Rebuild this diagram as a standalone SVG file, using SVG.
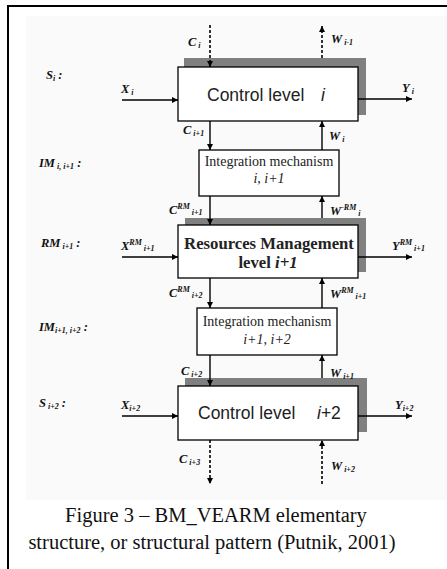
<svg xmlns="http://www.w3.org/2000/svg" width="447" height="569" viewBox="0 0 447 569">
<style>
.frame{fill:none;stroke:#000;stroke-width:2}
.box{fill:#fff;stroke:#000;stroke-width:1.3}
.shadow{fill:#808080}
.ln{stroke:#000;stroke-width:1.4;fill:none}
.dash{stroke:#000;stroke-width:1.6;fill:none;stroke-dasharray:3 2}
.lbl{font-family:"Liberation Serif",serif;font-weight:bold;font-style:italic;font-size:12.5px;fill:#111}
.sub{font-size:8px}
.sans{font-family:"Liberation Sans",Arial,sans-serif;font-size:17.5px;fill:#222}
.serif{font-family:"Liberation Serif",serif;font-size:14px;fill:#222}
.rm{font-family:"Liberation Serif",serif;font-size:16.7px;font-weight:bold;fill:#222}
.cap{font-family:"Liberation Serif",serif;font-size:20.5px;fill:#111}
</style>
<defs>
<marker id="ah" viewBox="0 0 10 10" refX="10" refY="5" markerWidth="6" markerHeight="6" markerUnits="userSpaceOnUse" orient="auto">
<path d="M0,0 L10,5 L0,10 z" fill="#000"/>
</marker>
</defs>
<rect x="0" y="0" width="447" height="569" fill="#fff"/>
<rect x="26" y="16" width="421" height="484" fill="#fafafa"/>
<path class="frame" d="M8,569 L8,6 L447,6"/>

<g id="control-i">
<rect class="shadow" x="184" y="58" width="182" height="57"/>
<rect class="box" x="178" y="67" width="180" height="54"/>
<text class="sans" x="207" y="101">Control level<tspan x="321" font-style="italic">i</tspan></text>
</g>

<g id="im-1">
<rect class="box" x="199" y="150" width="140" height="46"/>
<text class="serif" x="269" y="166" text-anchor="middle">Integration mechanism</text>
<text class="serif" x="269" y="183" text-anchor="middle" font-style="italic">i, i+1</text>
</g>

<g id="rm">
<rect class="shadow" x="185" y="218" width="181" height="54"/>
<rect class="box" x="178" y="225" width="180" height="53"/>
<text class="rm" x="269" y="249" text-anchor="middle">Resources Management</text>
<text class="rm" x="268" y="268" text-anchor="middle">level <tspan font-style="italic">i+1</tspan></text>
</g>

<g id="im-2">
<rect class="box" x="197" y="308" width="140" height="47"/>
<text class="serif" x="267" y="326" text-anchor="middle">Integration mechanism</text>
<text class="serif" x="267" y="344" text-anchor="middle" font-style="italic">i+1, i+2</text>
</g>

<g id="control-i2">
<rect class="shadow" x="185" y="378" width="182" height="54"/>
<rect class="box" x="178" y="386" width="180" height="54"/>
<text class="sans" x="198" y="419">Control level<tspan x="317" font-style="italic">i</tspan>+2</text>
</g>

<g id="connectors">
<line class="dash" x1="210" y1="25" x2="210" y2="67" marker-end="url(#ah)"/>
<line class="dash" x1="322" y1="58" x2="322" y2="26" marker-end="url(#ah)"/>
<line class="ln" x1="122" y1="100" x2="178" y2="100" marker-end="url(#ah)"/>
<line class="ln" x1="358" y1="99" x2="412" y2="99" marker-end="url(#ah)"/>
<line class="ln" x1="210" y1="121" x2="210" y2="150" marker-end="url(#ah)"/>
<line class="ln" x1="322" y1="150" x2="322" y2="121" marker-end="url(#ah)"/>
<line class="ln" x1="210" y1="196" x2="210" y2="225" marker-end="url(#ah)"/>
<line class="ln" x1="322" y1="218" x2="322" y2="196" marker-end="url(#ah)"/>
<line class="ln" x1="122" y1="257" x2="178" y2="257" marker-end="url(#ah)"/>
<line class="ln" x1="358" y1="257" x2="412" y2="257" marker-end="url(#ah)"/>
<line class="ln" x1="210" y1="278" x2="210" y2="308" marker-end="url(#ah)"/>
<line class="ln" x1="322" y1="308" x2="322" y2="278" marker-end="url(#ah)"/>
<line class="ln" x1="210" y1="355" x2="210" y2="386" marker-end="url(#ah)"/>
<line class="ln" x1="322" y1="378" x2="322" y2="355" marker-end="url(#ah)"/>
<line class="ln" x1="122" y1="416" x2="178" y2="416" marker-end="url(#ah)"/>
<line class="ln" x1="358" y1="416" x2="412" y2="416" marker-end="url(#ah)"/>
<line class="dash" x1="210" y1="440" x2="210" y2="484" marker-end="url(#ah)"/>
<line class="dash" x1="322" y1="484" x2="322" y2="440" marker-end="url(#ah)"/>
</g>

<g id="labels">
<text class="lbl" x="46" y="79">S<tspan class="sub" dy="2">i</tspan><tspan dy="-2"> :</tspan></text>
<text class="lbl" x="121" y="93">X<tspan class="sub" dy="2"> i</tspan></text>
<text class="lbl" x="188" y="46">C<tspan class="sub" dy="2"> i</tspan></text>
<text class="lbl" x="331" y="43">W<tspan class="sub" dy="2"> i-1</tspan></text>
<text class="lbl" x="402" y="92">Y<tspan class="sub" dy="2"> i</tspan></text>
<text class="lbl" x="183" y="134">C<tspan class="sub" dy="2"> i+1</tspan></text>
<text class="lbl" x="329" y="140">W<tspan class="sub" dy="2"> i</tspan></text>
<text class="lbl" x="39" y="167">IM<tspan class="sub" dy="2"> i, i+1</tspan><tspan dy="-2"> :</tspan></text>
<text class="lbl" x="169" y="214">C<tspan class="sub" dy="-5">RM</tspan><tspan class="sub" dy="6"> i+1</tspan></text>
<text class="lbl" x="330" y="215">W<tspan class="sub" dy="-5">-RM</tspan><tspan class="sub" dy="6"> i</tspan></text>
<text class="lbl" x="41" y="247">RM<tspan class="sub" dy="2"> i+1</tspan><tspan dy="-2"> :</tspan></text>
<text class="lbl" x="121" y="250">X<tspan class="sub" dy="-5">RM</tspan><tspan class="sub" dy="6"> i+1</tspan></text>
<text class="lbl" x="392" y="250">Y<tspan class="sub" dy="-5">RM</tspan><tspan class="sub" dy="6"> i+1</tspan></text>
<text class="lbl" x="169" y="297">C<tspan class="sub" dy="-5">RM</tspan><tspan class="sub" dy="6"> i+2</tspan></text>
<text class="lbl" x="330" y="298">W<tspan class="sub" dy="-5">RM</tspan><tspan class="sub" dy="6"> i+1</tspan></text>
<text class="lbl" x="39" y="331">IM<tspan class="sub" dy="2">i+1, i+2</tspan><tspan dy="-2"> :</tspan></text>
<text class="lbl" x="181" y="375">C<tspan class="sub" dy="2"> i+2</tspan></text>
<text class="lbl" x="330" y="377">W<tspan class="sub" dy="2"> i+1</tspan></text>
<text class="lbl" x="39" y="407">S<tspan class="sub" dy="2"> i+2</tspan><tspan dy="-2"> :</tspan></text>
<text class="lbl" x="121" y="409">X<tspan class="sub" dy="2">i+2</tspan></text>
<text class="lbl" x="395" y="409">Y<tspan class="sub" dy="2">i+2</tspan></text>
<text class="lbl" x="179" y="463">C<tspan class="sub" dy="2"> i+3</tspan></text>
<text class="lbl" x="331" y="470">W<tspan class="sub" dy="2"> i+2</tspan></text>
</g>

<g id="caption">
<text class="cap" x="216" y="522" text-anchor="middle">Figure 3 – BM_VEARM elementary</text>
<text class="cap" x="212" y="549" text-anchor="middle">structure, or structural pattern (Putnik, 2001)</text>
</g>
</svg>
